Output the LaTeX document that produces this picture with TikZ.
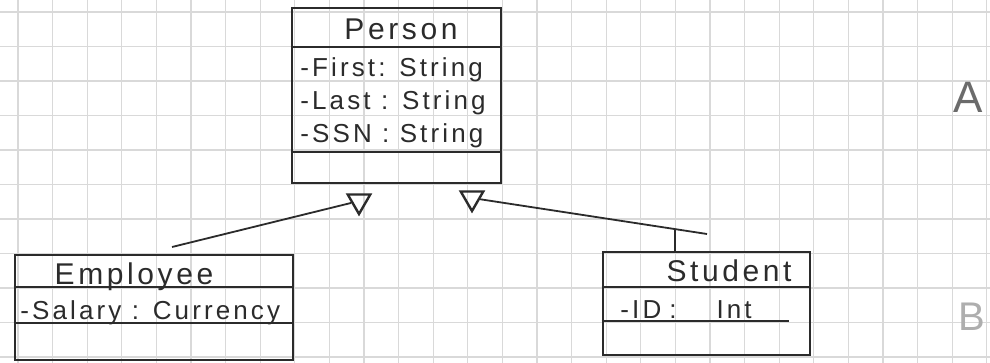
\documentclass[tikz,border=0pt]{standalone}
\usepackage{fontspec}
\setmainfont{Liberation Sans}[LetterSpace=12]
\usepackage{tikz}
\usetikzlibrary{shapes.geometric, positioning}
\definecolor{ink}{HTML}{2B2B2B}
\definecolor{gridGray}{HTML}{D9D9D9}

\begin{document}
\begin{tikzpicture}[x=0.5pt, y=-0.5pt,
  classbox/.style={draw=ink, line width=1.3pt, inner sep=0pt},
  sepline/.style={draw=ink, line width=1pt},
  clsname/.style={text=ink, font=\fontsize{15}{18}\selectfont, anchor=base, inner sep=0pt},
  attr/.style={text=ink, font=\fontsize{13}{15}\selectfont, anchor=base west, inner sep=0pt},
  gen/.style={draw=ink, line width=1.2pt, regular polygon, regular polygon sides=3,
    shape border rotate=180, minimum size=13pt, inner sep=0pt},
  assoc/.style={draw=ink, line width=0.9pt},
  gridline/.style={draw=gridGray, line width=0.6pt}]

  \useasboundingbox (0,0) rectangle (990,363);
  \fill[white] (0,0) rectangle (990,363);

  % graph paper
  \foreach \i in {0,...,28} \draw[gridline] (18+34.6*\i,0) -- (18+34.6*\i,363);
  \foreach \j in {0,...,10} \draw[gridline] (0,12+34.5*\j) -- (990,12+34.5*\j);

  % Person
  \node[classbox, minimum width=104.5pt, minimum height=87.5pt] (person) at (396.5,95.5) {};
  \draw[sepline] ([yshift=-20pt]person.north west) -- ([yshift=-20pt]person.north east);
  \draw[sepline] ([yshift=-72.5pt]person.north west) -- ([yshift=-72.5pt]person.north east);
  \node[clsname] (pname) at (401,40) {Person};
  \node[attr] (pfirst) at (300,77) {-First: String};
  \node[below=16.5pt of pfirst.base west, attr] (plast) {-Last : String};
  \node[below=16.5pt of plast.base west, attr] (pssn) {-SSN : String};

  % Employee
  \node[classbox, minimum width=139pt, minimum height=52.5pt] (employee) at (154,307.5) {};
  \draw[sepline] ([yshift=-16.5pt]employee.north west) -- ([yshift=-16.5pt]employee.north east);
  \draw[sepline] ([yshift=-34.5pt]employee.north west) -- ([yshift=-34.5pt]employee.north east);
  \node[clsname] (ename) at (134,285) {Employee};
  \node[attr] (esalary) at (20,319) {-Salary : Currency};

  % Student
  \node[classbox, minimum width=103.5pt, minimum height=51.5pt] (student) at (706.5,303.5) {};
  \draw[sepline] ([yshift=-18pt]student.north west) -- ([yshift=-18pt]student.north east);
  \draw[sepline] ([yshift=-35pt]student.north west) -- ([shift={(-11pt,-35pt)}]student.north east);
  \node[clsname] (sname) at (729,282) {Student};
  \node[attr] (sid) at (620,318) {-ID\hspace{4pt}:\hspace{20pt}Int};

  % generalisation
  \node[gen] (tri1) at (359,201) {};
  \node[gen] (tri2) at (472,198) {};
  \coordinate (etop) at (172,247);
  \coordinate (sjoin) at (675,229);
  \coordinate (send) at (707,234);
  \draw[assoc] (etop) -- (tri1);
  \draw[assoc] (tri2) -- (send);
  \draw[assoc] (student.north -| sjoin) -- (sjoin);

  % margin marks
  \node[text=ink!70, font=\fontsize{22}{26}\selectfont] (markA) at (968,97) {A};
  \node[text=gridGray!80!black, font=\fontsize{20}{24}\selectfont, anchor=base east, inner sep=0pt] (markB) at (986,330) {B};
\end{tikzpicture}
\end{document}
